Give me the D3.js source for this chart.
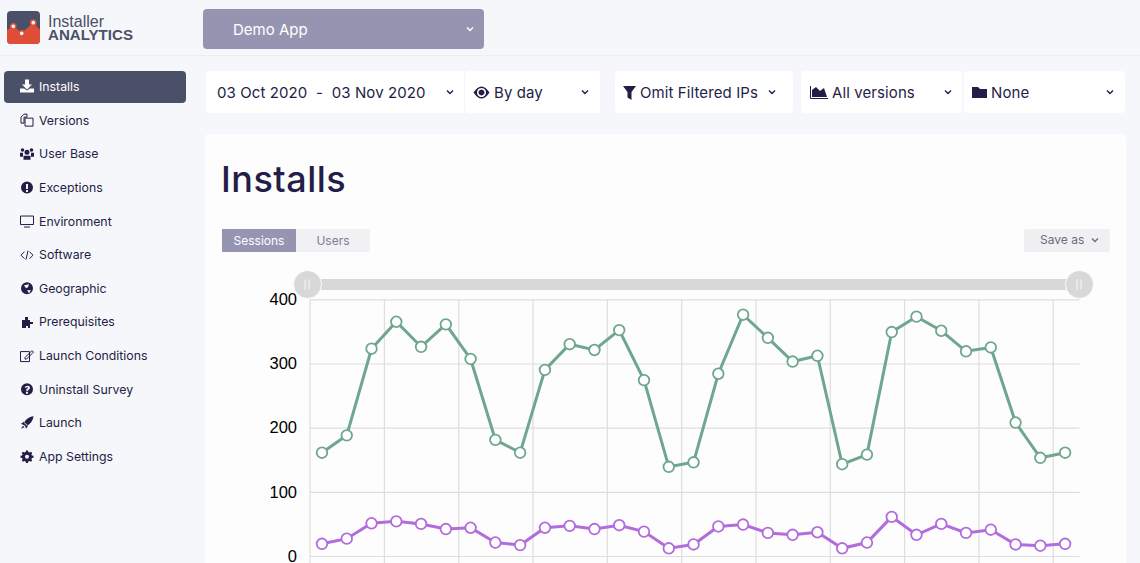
<!DOCTYPE html>
<meta charset="utf-8">
<style>

html, body {
  margin: 0;
  background: #f6f7fa;
  overflow: hidden;
}

text {
  font-family: Inter, "Noto Sans", sans-serif;
}

.axis text {
  font-family: "Liberation Sans", Arial, sans-serif;
  font-size: 16.5px;
  fill: #000;
}

.axis path {
  display: none;
}

.axis line {
  stroke: #dedede;
  stroke-width: 1.2;
}

</style>
<body>
<script src="https://d3js.org/d3.v7.min.js"></script>
<script>

var width = 1140,
    height = 563;

// chart data
var days = ["Oct 3", "Oct 4", "Oct 5", "Oct 6", "Oct 7", "Oct 8", "Oct 9", "Oct 10", "Oct 11", "Oct 12", "Oct 13",
    "Oct 14", "Oct 15", "Oct 16", "Oct 17", "Oct 18", "Oct 19", "Oct 20", "Oct 21", "Oct 22", "Oct 23", "Oct 24",
    "Oct 25", "Oct 26", "Oct 27", "Oct 28", "Oct 29", "Oct 30", "Oct 31", "Nov 1", "Nov 2"];
var sessions = [161, 188, 323, 365, 326, 361, 307, 181, 161, 290, 330, 321, 352, 274, 139, 146,
    284, 376, 340, 303, 312, 143, 158, 349, 373, 351, 319, 325, 208, 153, 161];
var users = [19, 27, 51, 54, 50, 42, 44, 21, 17, 44, 47, 42, 48, 38, 12, 18,
    46, 49, 36, 33, 37, 12, 21, 61, 33, 50, 36, 41, 18, 16, 19];
var yTicks = [0, 100, 200, 300, 400];

var navItems = ["Installs", "Versions", "User Base", "Exceptions", "Environment", "Software", "Geographic",
    "Prerequisites", "Launch Conditions", "Uninstall Survey", "Launch", "App Settings"];

// rough icon shapes in a 14px box, same order as navItems
var navIcons = [
  "M5 0h4v5h3L7 10 2 5h3zM0 9h4l3 2 3-2h4v4H0z",
  "M1 4l3-3h3v3H4v6H1zM5 5h8v8H5z|o",
  "M7 3a2.4 2.4 0 1 1 0 5 2.4 2.4 0 0 1 0-5zM2.5 1.5a1.8 1.8 0 1 1 0 3.6 1.8 1.8 0 0 1 0-3.6zM11.5 1.5a1.8 1.8 0 1 1 0 3.6 1.8 1.8 0 0 1 0-3.6zM3.5 9h7v4h-7zM0 6h3v4H0zM11 6h3v4h-3z",
  "M7 1a6 6 0 1 1 0 12A6 6 0 0 1 7 1zM6 3.5v5h2v-5zM6 9.5v2h2v-2z",
  "M.5 2h13v8.5H.5zM4 13h6|o",
  "M4.5 4L1 7.5l3.5 3.5M9.5 4L13 7.5 9.5 11M8 3L6 12|o",
  "M7 1a6 6 0 1 1 0 12A6 6 0 0 1 7 1zM4 4l2 3 2-1 1-3zM7 9l2 3 2-3z",
  "M2 5h3V2h3v3h2v2h3v2h-3v4H8v-2H6v2H2z",
  "M.5 3h9v10h-9zM5 9l7-7 1.5 1.5-7 7H5z|o",
  "M7 1a6 6 0 1 1 0 12A6 6 0 0 1 7 1zM4.8 5.5h1.7C6.6 4.6 8 4.7 8 5.6 8 6.6 6 6.6 6 8.5h2c0-1.2 2-1.3 2-3.1C10 2.800 5 2.700 4.800 5.500zM6 9.500v2h2v-2z",
  "M13.500.5C9 1 5.500 4 4 7l3 3c3-1.500 6-5 6.500-9.500zM1 8l3-2 4 4-2 3-1-3zM3 10l1.500 1.500L1 13z",
  "M6 1h2l.3 1.500 1.300.5L11 2.200l1.200 1.200-.8 1.300.5 1.300L13.500 6.300v1.900l-1.600.3-.5 1.300.8 1.300L11 12.200l-1.400-.8-1.300.5L8 13.500H6l-.3-1.600-1.300-.5-1.400.8-1.200-1.200.8-1.300-.5-1.300L.5 8.200V6.300l1.600-.3.5-1.300-.8-1.300L3 2.200l1.400.8 1.300-.5zM7 5.200a2 2 0 1 0 0 4 2 2 0 0 0 0-4z"
];

var controls = [
  {x0: 206, x1: 464, label: "03 Oct 2020  -  03 Nov 2020", textX: 217, chevron: 450},
  {x0: 465, x1: 600, label: "By day", textX: 494, chevron: 585},
  {x0: 615, x1: 793, label: "Omit Filtered IPs", textX: 640, chevron: 772},
  {x0: 801, x1: 962, label: "All versions", textX: 832, chevron: 948},
  {x0: 964, x1: 1125, label: "None", textX: 991, chevron: 1110}
];

var svg = d3.select("body").append("svg")
    .attr("width", width)
    .attr("height", height)
    .style("display", "block");

var ink = "#241d47";

function chevron(x, y, color) {
  svg.append("path")
      .attr("d", d3.line()([[x - 3, y - 1.5], [x, y + 1.5], [x + 3, y - 1.5]]))
      .attr("fill", "none")
      .attr("stroke", color)
      .attr("stroke-width", 1.4);
}

// header
svg.append("line")
    .attr("x1", 0).attr("x2", width).attr("y1", 55.5).attr("y2", 55.5)
    .attr("stroke", "#eeeef1");

svg.append("rect")
    .attr("x", 7).attr("y", 11).attr("width", 33).attr("height", 33).attr("rx", 4)
    .attr("fill", "#4a5068");
svg.append("path")
    .attr("d", "M7 30L13.300 26L21.700 33L33.300 22.700L40 30V40a4 4 0 0 1-4 4H11a4 4 0 0 1-4-4Z")
    .attr("fill", "#e04e37");
svg.selectAll(".logo-dot")
    .data([[13.300, 26.300], [21.700, 33.300], [33.300, 22.700]])
  .enter().append("circle")
    .attr("cx", function(d) { return d[0]; })
    .attr("cy", function(d) { return d[1]; })
    .attr("r", 2.600)
    .attr("fill", "#f6f7fa")
    .attr("stroke", "#e04e37")
    .attr("stroke-width", 1.500);

svg.append("text").attr("x", 48).attr("y", 26.500)
    .style("font-family", "'Liberation Sans', sans-serif")
    .attr("font-size", 16).attr("fill", "#4a5068").text("Installer");
svg.append("text").attr("x", 48).attr("y", 40.200)
    .style("font-family", "'Liberation Sans', sans-serif")
    .attr("font-size", 15.100).attr("font-weight", 700).attr("fill", "#4a5068").text("ANALYTICS");

svg.append("rect")
    .attr("x", 203).attr("y", 9).attr("width", 281).attr("height", 40).attr("rx", 4)
    .attr("fill", "#9695b1");
svg.append("text").attr("x", 233).attr("y", 35)
    .attr("font-size", 15).attr("fill", "#fff").text("Demo App");
chevron(470, 29, "#fff");

// sidebar
svg.append("rect")
    .attr("x", 4).attr("y", 71).attr("width", 182).attr("height", 32).attr("rx", 4)
    .attr("fill", "#4a5068");

var navY = d3.scaleLinear().domain([0, navItems.length - 1]).range([86.500, 456.500]);

var nav = svg.selectAll(".nav")
    .data(navItems)
  .enter().append("g")
    .attr("class", "nav")
    .attr("transform", function(d, i) { return "translate(0," + navY(i) + ")"; });

nav.append("text")
    .attr("x", 39)
    .attr("y", 4.500)
    .attr("font-size", 12.300)
    .attr("fill", function(d, i) { return i ? ink : "#fff"; })
    .text(function(d) { return d; });

nav.append("path")
    .attr("transform", "translate(20,-7)")
    .attr("d", function(d, i) { return navIcons[i].split("|")[0]; })
    .attr("fill", function(d, i) { return navIcons[i].indexOf("|o") > 0 ? "none" : i ? ink : "#fff"; })
    .attr("stroke", function(d, i) { return navIcons[i].indexOf("|o") > 0 ? ink : "none"; })
    .attr("stroke-width", 1)
    .attr("fill-rule", "evenodd");

// filter bar
svg.selectAll(".control")
    .data(controls)
  .enter().append("rect")
    .attr("class", "control")
    .attr("x", function(d) { return d.x0; })
    .attr("y", 71)
    .attr("width", function(d) { return d.x1 - d.x0; })
    .attr("height", 42)
    .attr("rx", 4)
    .attr("fill", "#fff");

svg.selectAll(".control-label")
    .data(controls)
  .enter().append("text")
    .attr("class", "control-label")
    .attr("x", function(d) { return d.textX; })
    .attr("y", 98)
    .attr("font-size", 15)
    .attr("letter-spacing", 0.1)
    .attr("fill", ink)
    .style("white-space", "pre")
    .text(function(d) { return d.label; });

controls.forEach(function(d) { chevron(d.chevron, 92, ink); });

// eye, funnel, area, folder
svg.append("path").attr("fill", ink).attr("fill-rule", "evenodd")
    .attr("d", "M473.500 92.500Q481.500 80.500 489.500 92.500Q481.500 104.500 473.500 92.500ZM481.500 88a4.500 4.500 0 1 0 .01 0ZM481.500 89.500a3 3 0 1 1-.01 0Z");
svg.append("path").attr("fill", ink)
    .attr("d", "M623 86H636L631.500 92V100L627.500 97.500V92Z");
svg.append("path").attr("fill", ink)
    .attr("d", "M812 97V90L816 87L820 91L824 88L827 97Z");
svg.append("path").attr("fill", "none").attr("stroke", ink)
    .attr("d", "M810.500 86V98.500H828");
svg.append("path").attr("fill", ink)
    .attr("d", "M972 87H978L980 89H987V98H972Z");

// main panel
svg.append("rect")
    .attr("x", 205).attr("y", 134).attr("width", 921).attr("height", 440).attr("rx", 4)
    .attr("fill", "#fdfdfd");

svg.append("text").attr("x", 221).attr("y", 192)
    .attr("font-size", 36).attr("font-weight", 500).attr("letter-spacing", 0.5).attr("fill", ink).text("Installs");

svg.append("rect").attr("x", 296).attr("y", 229).attr("width", 74).attr("height", 23).attr("fill", "#f1f1f3");
svg.append("rect").attr("x", 222).attr("y", 229).attr("width", 74).attr("height", 23).attr("fill", "#9695b1");
svg.append("text").attr("x", 259).attr("y", 245).attr("text-anchor", "middle")
    .attr("font-size", 12).attr("fill", "#fff").text("Sessions");
svg.append("text").attr("x", 333).attr("y", 245).attr("text-anchor", "middle")
    .attr("font-size", 12).attr("fill", "#7c7b9c").text("Users");

svg.append("rect").attr("x", 1024).attr("y", 229).attr("width", 86).attr("height", 23).attr("rx", 2).attr("fill", "#f0f0f2");
svg.append("text").attr("x", 1040).attr("y", 244)
    .attr("font-size", 12).attr("fill", "#6c6c80").text("Save as");
chevron(1095, 240, "#6c6c80");

// chart
var xEdge = d3.scaleLinear().domain([0, days.length]).range([309.600, 1077.500]),
    y = d3.scaleLinear().domain([0, 400]).range([556, 299.300]);

var gridX = d3.range(0, days.length + 1, 3);

svg.append("g")
    .attr("class", "axis")
    .attr("transform", "translate(0,300)")
    .call(d3.axisBottom(xEdge).tickValues(gridX).tickSize(270).tickFormat(""));

svg.append("g")
    .attr("class", "axis")
    .attr("transform", "translate(1079.500,0)")
    .call(d3.axisLeft(y).tickValues(yTicks).tickSize(770).tickPadding(12.500));

var series = [
  {values: sessions, color: "#6ea78d"},
  {values: users, color: "#b26cdc"}
];

var line = d3.line()
    .x(function(d, i) { return xEdge(i + 0.5); })
    .y(function(d) { return y(d); });

series.forEach(function(s) {
  svg.append("path")
      .attr("d", line(s.values))
      .attr("fill", "none")
      .attr("stroke", s.color)
      .attr("stroke-width", 3);

  svg.append("g").selectAll("circle")
      .data(s.values)
    .enter().append("circle")
      .attr("cx", function(d, i) { return xEdge(i + 0.5); })
      .attr("cy", function(d) { return y(d); })
      .attr("r", 5.300)
      .attr("fill", "#fff")
      .attr("stroke", s.color)
      .attr("stroke-width", 1.800);
});

// range slider
svg.append("rect")
    .attr("x", 315).attr("y", 279).attr("width", 755).attr("height", 11)
    .attr("fill", "#d8d8d8");

var handles = svg.selectAll(".handle")
    .data([307.500, 1079.500])
  .enter().append("g")
    .attr("class", "handle")
    .attr("transform", function(d) { return "translate(" + d + ",284.500)"; });

handles.append("circle")
    .attr("r", 14)
    .attr("fill", "#d8d8d8")
    .attr("stroke", "#fdfdfd")
    .attr("stroke-width", 1);

handles.selectAll("rect")
    .data([-3, 1])
  .enter().append("rect")
    .attr("x", function(d) { return d; })
    .attr("y", -5)
    .attr("width", 1.200)
    .attr("height", 10)
    .attr("fill", "#f4f4f4");

</script>
